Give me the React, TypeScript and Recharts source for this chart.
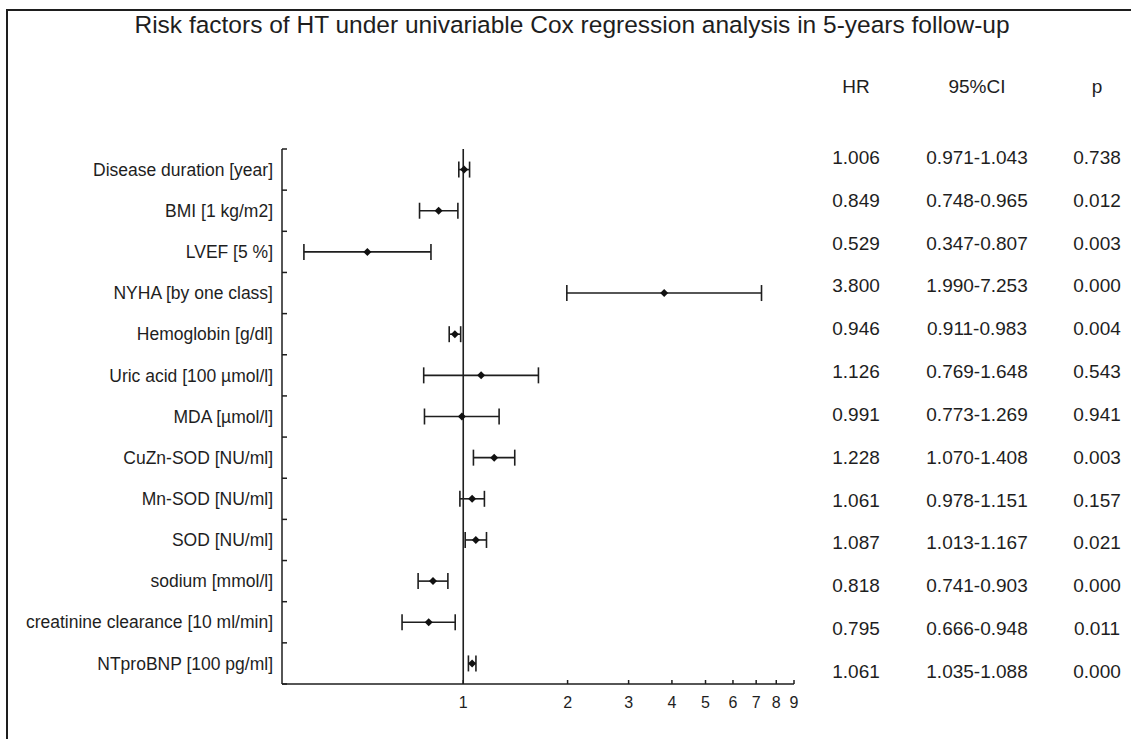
import { ComposedChart, Scatter, XAxis, YAxis, ErrorBar, ReferenceLine } from 'recharts'

const factors = [
  'Disease duration [year]',
  'BMI [1 kg/m2]',
  'LVEF [5 %]',
  'NYHA [by one class]',
  'Hemoglobin [g/dl]',
  'Uric acid [100 µmol/l]',
  'MDA [µmol/l]',
  'CuZn-SOD [NU/ml]',
  'Mn-SOD [NU/ml]',
  'SOD [NU/ml]',
  'sodium [mmol/l]',
  'creatinine clearance [10 ml/min]',
  'NTproBNP [100 pg/ml]',
]
const hr = [1.006, 0.849, 0.529, 3.8, 0.946, 1.126, 0.991, 1.228, 1.061, 1.087, 0.818, 0.795, 1.061]
const ciLow = [0.971, 0.748, 0.347, 1.99, 0.911, 0.769, 0.773, 1.07, 0.978, 1.013, 0.741, 0.666, 1.035]
const ciHigh = [1.043, 0.965, 0.807, 7.253, 0.983, 1.648, 1.269, 1.408, 1.151, 1.167, 0.903, 0.948, 1.088]
const pValues = ['0.738', '0.012', '0.003', '0.000', '0.004', '0.543', '0.941', '0.003', '0.157', '0.021', '0.000', '0.011', '0.000']
const xTicks = [1, 2, 3, 4, 5, 6, 7, 8, 9]

const FONT = '"Liberation Sans", Arial, Helvetica, sans-serif'
const INK = '#1e1e1e'

// one point per factor; row sits in the middle of its band, errors are distances to CI ends
const rows = factors.map((name, i) => ({
  name,
  row: i + 0.5,
  hr: hr[i],
  err: [hr[i] - ciLow[i], ciHigh[i] - hr[i]],
}))
const bandTicks = factors.map((_, i) => i).concat(factors.length)
const labelTicks = rows.map((r) => r.row)

const Diamond = (props: any) => {
  const { cx, cy } = props
  const r = 4
  return (
    <polygon
      points={`${cx},${cy - r} ${cx + r},${cy} ${cx},${cy + r} ${cx - r},${cy}`}
      fill="#111"
    />
  )
}

// table rows are spaced a little wider than the plot rows in the original figure
const tableTop = 157
const tableStep = 42.83

export default function App() {
  return (
    <div
      style={{
        position: 'absolute',
        left: 0,
        top: 0,
        width: 1131,
        height: 739,
        background: '#fff',
        overflow: 'hidden',
        fontFamily: FONT,
      }}
    >
      <ComposedChart
        width={1131}
        height={739}
        data={rows}
        margin={{ top: 149, right: 337, bottom: 15, left: 0 }}
      >
        <XAxis
          type="number"
          dataKey="hr"
          scale="log"
          domain={[0.3, 9]}
          allowDataOverflow
          ticks={xTicks}
          interval={0}
          height={40}
          tickSize={-4}
          tickMargin={17}
          axisLine={{ stroke: INK, strokeWidth: 1.5 }}
          tickLine={{ stroke: INK, strokeWidth: 1.5 }}
          tick={{ fill: INK, fontSize: 16, fontFamily: FONT }}
        />
        <YAxis
          yAxisId="band"
          type="number"
          dataKey="row"
          domain={[0, factors.length]}
          reversed
          allowDataOverflow
          ticks={bandTicks}
          interval={0}
          width={1}
          tickSize={-5}
          tickFormatter={() => ''}
          axisLine={{ stroke: INK, strokeWidth: 1.5 }}
          tickLine={{ stroke: INK, strokeWidth: 1.5 }}
        />
        <YAxis
          yAxisId="label"
          type="number"
          dataKey="row"
          domain={[0, factors.length]}
          reversed
          allowDataOverflow
          ticks={labelTicks}
          interval={0}
          width={281}
          axisLine={false}
          tickLine={false}
          tickSize={0}
          tickMargin={8}
          tickFormatter={(v: number) => factors[Math.floor(v)]}
          tick={{ fill: INK, fontSize: 17.5, fontFamily: FONT }}
        />
        <ReferenceLine x={1} yAxisId="band" stroke={INK} strokeWidth={1.6} />
        <Scatter
          yAxisId="band"
          dataKey="hr"
          shape={<Diamond />}
          isAnimationActive={false}
        >
          <ErrorBar
            dataKey="err"
            direction="x"
            width={8}
            stroke={INK}
            strokeWidth={1.6}
            isAnimationActive={false}
          />
        </Scatter>
      </ComposedChart>

      <div
        style={{
          position: 'absolute',
          left: 6,
          top: 9,
          right: -4,
          bottom: -4,
          borderTop: `2.5px solid ${INK}`,
          borderLeft: `2.5px solid ${INK}`,
          pointerEvents: 'none',
        }}
      />

      <svg
        width={1131}
        height={739}
        style={{ position: 'absolute', left: 0, top: 0, pointerEvents: 'none' }}
      >
        <text x={572} y={33} textAnchor="middle" fontSize={24.5} fill={INK} fontFamily={FONT}>
          Risk factors of HT under univariable Cox regression analysis in 5-years follow-up
        </text>
        <g fontSize={19} fill={INK} fontFamily={FONT} textAnchor="middle">
          <text x={856} y={93}>HR</text>
          <text x={977} y={93}>95%CI</text>
          <text x={1097} y={93}>p</text>
          {factors.map((f, i) => {
            const y = tableTop + i * tableStep + 7
            return (
              <g key={f}>
                <text x={856} y={y}>{hr[i].toFixed(3)}</text>
                <text x={977} y={y}>{`${ciLow[i].toFixed(3)}-${ciHigh[i].toFixed(3)}`}</text>
                <text x={1097} y={y}>{pValues[i]}</text>
              </g>
            )
          })}
        </g>
      </svg>
    </div>
  )
}
